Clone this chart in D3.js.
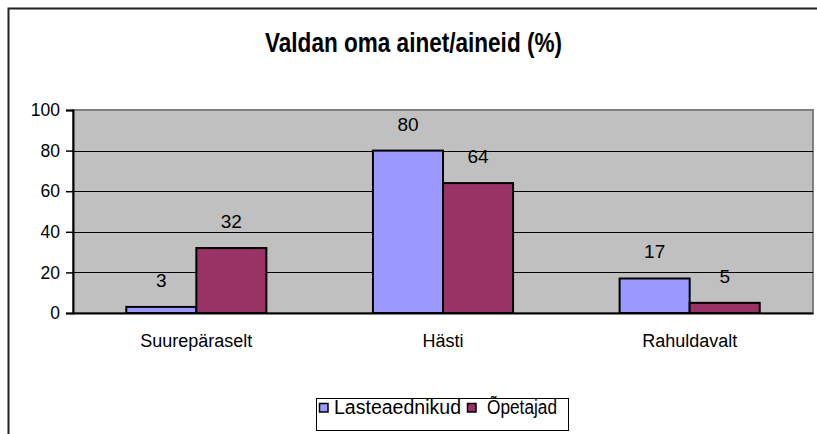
<!DOCTYPE html>
<html>
<head>
<meta charset="utf-8">
<script src="https://cdn.jsdelivr.net/npm/d3@7"></script>
<style>
  body { margin: 0; background: #fff; }
  text { font-family: "Liberation Sans", Arial, sans-serif; }
</style>
</head>
<body>
<div id="chart"></div>
<script>
// Chart data
var categories = ["Suurepäraselt", "Hästi", "Rahuldavalt"];
var seriesNames = ["Lasteaednikud", "Õpetajad"];
var lasteaednikud = [3, 80, 17];
var opetajad = [32, 64, 5];
var yTicks = [0, 20, 40, 60, 80, 100];

var svgWidth = 817;
var svgHeight = 434;
var colors = ["#9999FF", "#993366"];

var margin = { top: 110, right: 4, bottom: 121, left: 73 };
var chartWidth = svgWidth - margin.left - margin.right;
var chartHeight = svgHeight - margin.top - margin.bottom;

var svg = d3.select("#chart")
  .append("svg")
  .attr("width", svgWidth)
  .attr("height", svgHeight);

// outer frame (open on right and bottom, like the cropped original)
svg.append("rect")
  .attr("x", 8.5).attr("y", 8.5)
  .attr("width", 830).attr("height", 440)
  .attr("fill", "none")
  .attr("stroke", "#222")
  .attr("stroke-width", 2);

// Title
svg.append("text")
  .attr("x", 265)
  .attr("y", 52)
  .attr("textLength", 297)
  .attr("lengthAdjust", "spacingAndGlyphs")
  .style("font-size", "27px")
  .style("font-weight", "bold")
  .text("Valdan oma ainet/aineid (%)");

var chart = svg.append("g")
  .attr("transform", `translate(${margin.left}, ${margin.top})`);

var x0 = d3.scaleBand()
  .domain(categories)
  .range([0, chartWidth])
  .paddingInner(0.432)
  .paddingOuter(0.216);

var x1 = d3.scaleBand()
  .domain(seriesNames)
  .range([0, x0.bandwidth()]);

var y = d3.scaleLinear()
  .domain([0, 100])
  .range([chartHeight, 0]);

// plot background
chart.append("rect")
  .attr("x", 0).attr("y", 0)
  .attr("width", chartWidth).attr("height", chartHeight)
  .attr("fill", "#C0C0C0")
  .attr("stroke", "#808080")
  .attr("stroke-width", 2);

// gridlines
chart.append("g")
  .selectAll("line")
  .data(yTicks.filter(function(d) { return d > 0 && d < 100; }))
  .enter().append("line")
    .attr("x1", 0).attr("x2", chartWidth)
    .attr("y1", function(d) { return Math.round(y(d)) + 0.5; })
    .attr("y2", function(d) { return Math.round(y(d)) + 0.5; })
    .attr("stroke", "#000")
    .attr("stroke-width", 1);

var rows = categories.map(function(c, i) {
  return { cat: c, values: [lasteaednikud[i], opetajad[i]] };
});

var groups = chart.selectAll(".grp")
  .data(rows)
  .enter().append("g")
    .attr("transform", function(d) { return `translate(${x0(d.cat)}, 0)`; });

groups.selectAll("rect")
  .data(function(d) { return d.values.map(function(v, j) { return { s: seriesNames[j], v: v, j: j }; }); })
  .enter().append("rect")
    .attr("x", function(d) { return x1(d.s); })
    .attr("y", function(d) { return y(d.v); })
    .attr("width", x1.bandwidth())
    .attr("height", function(d) { return chartHeight - y(d.v); })
    .attr("fill", function(d) { return colors[d.j]; })
    .attr("stroke", "#000")
    .attr("stroke-width", 2);

groups.selectAll(".lbl")
  .data(function(d) { return d.values.map(function(v, j) { return { s: seriesNames[j], v: v }; }); })
  .enter().append("text")
    .attr("x", function(d) { return x1(d.s) + x1.bandwidth() / 2; })
    .attr("y", function(d) { return y(d.v) - 20; })
    .attr("text-anchor", "middle")
    .style("font-size", "19px")
    .text(function(d) { return d.v; });

// y axis
var leftAxis = d3.axisLeft(y).tickValues(yTicks).tickSize(7).tickPadding(6);
var yAxis = chart.append("g").call(leftAxis);
yAxis.select(".domain").attr("stroke", "#000").attr("stroke-width", 2);
yAxis.selectAll(".tick line").attr("stroke-width", 1.5);
yAxis.selectAll("text").style("font-size", "17.5px").attr("fill", "#000");

// x axis
var bottomAxis = d3.axisBottom(x0).tickSize(0).tickPadding(21);
var xAxis = chart.append("g")
  .attr("transform", `translate(0, ${chartHeight})`)
  .call(bottomAxis);
xAxis.select(".domain").attr("stroke", "#000").attr("stroke-width", 2);
xAxis.selectAll("text").style("font-size", "18px").attr("fill", "#000");

// Legend
var legend = svg.append("g").attr("transform", "translate(316, 398)");
legend.append("rect")
  .attr("x", 0.5).attr("y", 0.5)
  .attr("width", 252).attr("height", 32)
  .attr("fill", "#fff")
  .attr("stroke", "#000")
  .attr("stroke-width", 1);

var legendX = [3, 151];
var legendTextLen = [127, 70];
var items = legend.selectAll(".item")
  .data(seriesNames)
  .enter().append("g")
    .attr("transform", function(d, i) { return `translate(${legendX[i]}, 0)`; });
items.append("rect")
  .attr("x", 0.5).attr("y", 5.5)
  .attr("width", 8.5).attr("height", 8.5)
  .attr("fill", function(d, i) { return colors[i]; })
  .attr("stroke", "#000")
  .attr("stroke-width", 1.5);
items.append("text")
  .attr("x", function(d, i) { return i === 0 ? 15 : 20; })
  .attr("y", 16)
  .attr("textLength", function(d, i) { return legendTextLen[i]; })
  .attr("lengthAdjust", "spacingAndGlyphs")
  .style("font-size", "20px")
  .text(function(d) { return d; });
</script>
</body>
</html>
